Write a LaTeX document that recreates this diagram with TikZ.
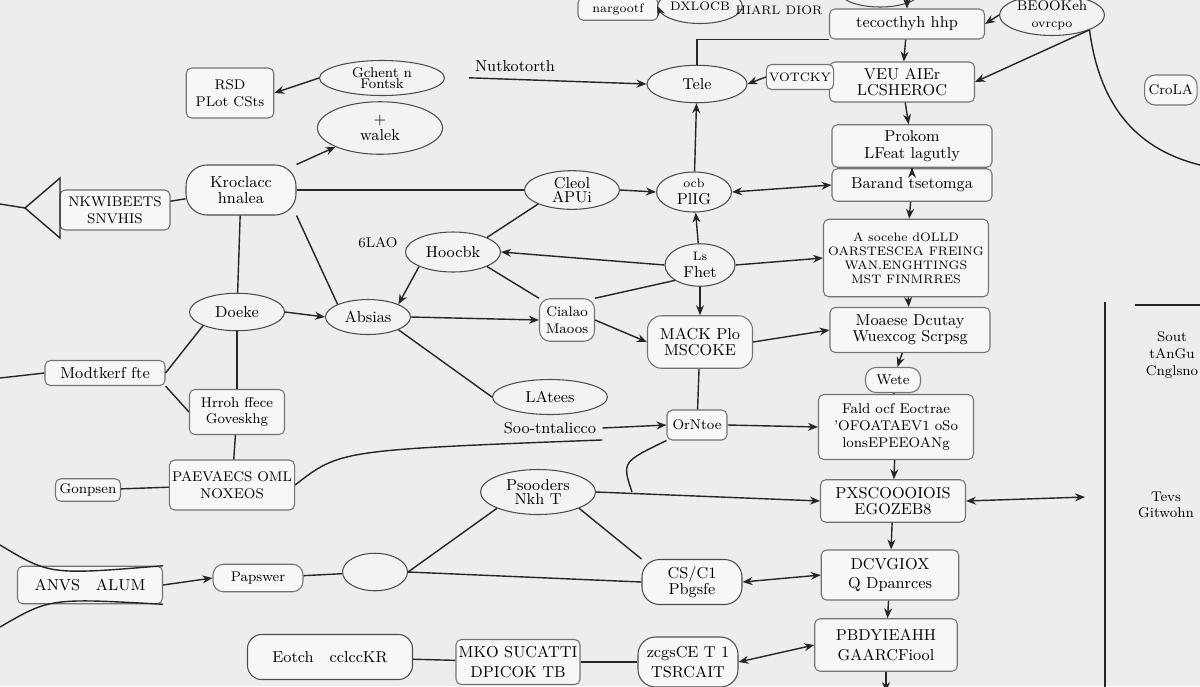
\documentclass[tikz,border=0pt]{standalone}
\usepackage{tikz}
\usetikzlibrary{arrows.meta,shapes.geometric}
\definecolor{paper}{HTML}{ECEDEF}
\tikzset{
  dgbox/.style={draw=black!55, line width=0.6pt, fill=white!55!paper, rounded corners=3pt,
                align=center, font=\small, inner sep=1.5pt},
  dgell/.style={ellipse, draw=black!70, line width=0.6pt, fill=white!35!paper,
                align=center, font=\small, inner sep=0.5pt},
  dgtxt/.style={font=\small, align=center},
  dgrel/.style={draw=black!85, line width=0.8pt},
  dgarr/.style={dgrel, -{Stealth[length=2mm,width=1.6mm]}},
  dgtwo/.style={dgrel, {Stealth[length=2mm,width=1.6mm]}-{Stealth[length=2mm,width=1.6mm]}},
}

\begin{document}
\begin{tikzpicture}[x=0.2mm,y=-0.2mm]
  \fill[paper] (0,0) rectangle (1200,686);
  \useasboundingbox (0,0) rectangle (1200,686);
  \clip (0,0) rectangle (1200,686);

  % top strip
  \node[dgbox, minimum width=16mm, minimum height=4.5mm, font=\scriptsize] (topl) at (618,9) {nargootf};
  \node[dgell, minimum width=15mm, minimum height=7mm, font=\scriptsize, inner sep=0pt] (topo) at (700,6) {DXLOCB};
  \node[dgtxt, font=\scriptsize] (hiar) at (758,10) {HIARL};
  \node[dgtxt, font=\scriptsize] (dior) at (804,10) {DIOR};
  \node[dgell, minimum width=16mm, minimum height=6mm] (topc) at (880,-8) {};
  \coordinate (tectop) at (907,-4);

  % right column
  \node[dgbox, minimum width=31mm, minimum height=6mm] (tecc) at (907,24) {tecocthyh hhp};
  \node[dgell, minimum width=21mm, minimum height=7.5mm, font=\footnotesize, inner sep=0pt] (beok) at (1052,15) {BEOOKeh\\{\scriptsize ovrcpo}};
  \node[dgbox, minimum width=29mm, minimum height=8mm] (veu) at (902,82) {VEU AIEr\\[-2pt]LCSHEROC};
  \node[dgbox, minimum width=32mm, minimum height=8.5mm] (prok) at (912,146) {Prokom\\[-1pt]LFeat lagutly};
  \node[dgbox, minimum width=32mm, minimum height=6.5mm] (bara) at (912,185) {Barand tsetomga};
  \node[dgbox, minimum width=33mm, minimum height=15.5mm, font=\scriptsize] (asoc) at (906,258) {A socehe dOLLD\\OARSTESCEA FREING\\WAN.ENGHTINGS\\MST FINMRRES};
  \node[dgbox, minimum width=32mm, minimum height=9mm] (moae) at (910,330) {Moaese Dcutay\\[-2pt]Wuexcog Scrpsg};
  \node[dgbox, rounded corners=6pt, minimum width=11mm, minimum height=5mm, font=\footnotesize] (wete) at (893,380) {Wete};
  \node[dgbox, minimum width=31mm, minimum height=13mm, font=\footnotesize] (fald) at (896,427) {Fald ocf Eoctrae\\'OFOATAEV1 oSo\\lonsEPEEOANg};
  \node[dgbox, minimum width=29mm, minimum height=8.5mm] (pxsc) at (893,501) {PXSCOOOIOIS\\[-2pt]EGOZEB8};
  \node[dgbox, minimum width=27.5mm, minimum height=10mm] (dcvg) at (890,575) {DCVGIOX\\Q Dpanrces};
  \node[dgbox, minimum width=28.5mm, minimum height=10.5mm] (pbdy) at (886,645) {PBDYIEAHH\\GAARCFiool};
  \coordinate (pbdyout) at (886,692);
  \coordinate (pxscr) at (1085,497);

  % far right
  \node[dgbox, rounded corners=6pt, minimum width=10.5mm, minimum height=6mm, font=\footnotesize, anchor=west] (crol) at (1144,90) {CroLA};
  \node[dgtxt, font=\footnotesize] (sout) at (1172,355) {Sout\\tAnGu\\Cnglsno};
  \node[dgtxt, font=\footnotesize] (tevs) at (1166,505) {Tevs\\Gitwohn};
  \coordinate (arcb) at (1200,165);
  \coordinate (vlt) at (1105,302);
  \coordinate (vlb) at (1105,690);
  \coordinate (hll) at (1135,305);
  \coordinate (hlr) at (1202,305);

  % middle column
  \node[dgell, minimum width=20mm, minimum height=7.5mm] (tele) at (697,84) {Tele};
  \node[dgbox, minimum width=9mm, minimum height=5mm, font=\scriptsize] (votc) at (800,77) {VOTCKY};
  \node[dgell, minimum width=15mm, minimum height=8mm, inner sep=0pt] (plig) at (694,192) {{\scriptsize ocb}\\[-1pt]PlIG};
  \node[dgell, minimum width=14mm, minimum height=8.5mm, inner sep=0pt] (fhet) at (700,265) {{\scriptsize Ls}\\[-1pt]Fhet};
  \node[dgbox, rounded corners=8pt, minimum width=21mm, minimum height=10.5mm] (mack) at (700,342) {MACK Plo\\[-2pt]MSCOKE};
  \node[dgbox, minimum width=12mm, minimum height=6mm, font=\footnotesize] (orn) at (697,425) {OrNtoe};
  \node[dgell, minimum width=23mm, minimum height=9mm] (psoo) at (538,492) {Psooders\\[-3pt]Nkh T};
  \node[dgbox, draw=black!70, rounded corners=10pt, minimum width=20mm, minimum height=9mm] (cs) at (692,582) {CS/C1\\[-2pt]Pbgsfe};
  \node[dgbox, draw=black!70, rounded corners=10pt, minimum width=20mm, minimum height=10mm] (zcgs) at (688,662) {zcgsCE T 1\\TSRCAIT};
  \node[dgbox, minimum width=20mm, minimum height=9mm] (mko) at (518,662) {MKO SUCATTI\\DPICOK TB};

  % lower left
  \node[dgbox, draw=black!70, rounded corners=8pt, minimum width=33mm, minimum height=9mm] (eotc) at (330,657) {Eotch\quad cclccKR};
  \node[dgell, minimum width=13mm, minimum height=7.5mm] (blank) at (375,572) {};
  \node[dgbox, rounded corners=6pt, minimum width=18mm, minimum height=5.5mm, font=\footnotesize] (paps) at (258,578) {Papswer};
  \node[dgbox, minimum width=29mm, minimum height=7.5mm] (anvs) at (90,585) {ANVS\quad ALUM};
  \coordinate (anvsa) at (0,545);
  \coordinate (anvsb) at (0,627);
  \node[dgbox, minimum width=21mm, minimum height=10mm, font=\footnotesize] (paev) at (232,485) {PAEVAECS OML\\NOXEOS};
  \node[dgbox, minimum width=13mm, minimum height=4.5mm, font=\footnotesize] (gonp) at (88,490) {Gonpsen};
  \node[dgbox, minimum width=19mm, minimum height=9mm, font=\footnotesize] (hrro) at (237,412) {Hrroh ffece\\Goveskhg};
  \node[dgbox, minimum width=24mm, minimum height=5mm] (modt) at (105,373) {Modtkerf fte};
  \coordinate (modtl) at (0,378);

  % upper left
  \node[dgell, minimum width=19mm, minimum height=7.5mm] (doek) at (237,312) {Doeke};
  \node[dgell, minimum width=17mm, minimum height=7mm] (absi) at (368,317) {Absias};
  \node[dgbox, rounded corners=6pt, minimum width=11mm, minimum height=8.5mm, font=\footnotesize] (cial) at (567,320) {Cialao\\Maoos};
  \node[dgell, minimum width=23mm, minimum height=7mm] (late) at (550,397) {LAtees};
  \node[dgtxt] (sootn) at (550,428) {Soo-tntalicco};
  \node[dgbox, draw=black!70, rounded corners=12pt, minimum width=22mm, minimum height=10mm] (krok) at (241,190) {Kroclacc\\[-2pt]hnalea};
  \node[dgbox, minimum width=22mm, minimum height=8mm, font=\footnotesize] (nkwi) at (115,210) {NKWIBEETS\\SNVHIS};
  \node[dgell, minimum width=19mm, minimum height=8mm] (hooc) at (453,252) {Hoocbk};
  \node[dgtxt, font=\footnotesize] (slao) at (378,243) {6LAO};
  \node[dgell, minimum width=19mm, minimum height=7.5mm] (cleo) at (572,190) {Cleol\\[-3pt]APUi};
  \node[dgell, minimum width=25mm, minimum height=10.5mm] (walk) at (380,128) {+\\[-2pt]walek};
  \node[dgell, minimum width=25mm, minimum height=7mm, font=\footnotesize] (gche) at (382,78) {Gchent n\\[-3pt]Fontsk};
  \node[dgbox, minimum width=17.5mm, minimum height=10mm, font=\footnotesize] (rsd) at (230,93) {RSD\\PLot CSts};
  \node[dgtxt] (nutk) at (515,66) {Nutkotorth};
  \coordinate (trit) at (60,178);
  \coordinate (trib) at (60,238);
  \coordinate (trip) at (25,208);
  \coordinate (tril) at (0,204);

  % connectors: top and right column
  \draw[dgarr] (topl.east) -- (topo.west);
  \draw[dgarr] (tectop) -- (tecc.north);
  \draw[dgarr] (beok.west) -- (tecc.east);
  \draw[dgarr] (beok.south east) -- (veu.east);
  \draw[dgrel] (beok.south east) .. controls (1100,110) and (1140,150) .. (arcb);
  \draw[dgrel] (tecc.south west) -| (tele.north);
  \draw[dgarr] (tecc) -- (veu);
  \draw[dgarr] (veu) -- (prok);
  \draw[dgarr] (bara) -- (prok);
  \draw[dgarr] (bara) -- (asoc);
  \draw[dgarr] (asoc) -- (moae);
  \draw[dgarr] (moae) -- (wete);
  \draw[dgrel] (wete) -- (fald);
  \draw[dgarr] (fald) -- (pxsc);
  \draw[dgarr] (pxsc) -- (dcvg);
  \draw[dgarr] (dcvg) -- (pbdy);
  \draw[dgarr] (pbdy) -- (pbdyout);
  \draw[dgtwo] (pxsc.east) -- (pxscr);
  \draw[dgrel] (vlt) -- (vlb);
  \draw[dgrel] (hll) -- (hlr);

  % connectors: middle
  \draw[dgarr] (nutk.south west) -- (tele.west);
  \draw[dgarr] (votc.west) -- (tele.east);
  \draw[dgarr] (plig) -- (tele);
  \draw[dgarr] (cleo.east) -- (plig.west);
  \draw[dgtwo] (plig.east) -- (bara.west);
  \draw[dgarr] (fhet) -- (plig);
  \draw[dgarr] (fhet.east) -- (asoc.west);
  \draw[dgarr] (fhet.west) -- (hooc.east);
  \draw[dgarr] (fhet) -- (mack);
  \draw[dgrel] (fhet.south west) -- (cial.north east);
  \draw[dgarr] (cial.east) -- (mack.west);
  \draw[dgarr] (mack.east) -- (moae.west);
  \draw[dgrel] (mack) -- (orn);
  \draw[dgarr] (orn.east) -- (fald.west);
  \draw[dgarr] (sootn.east) -- (orn.west);
  \draw[dgrel] (paev.east) .. controls (340,450) .. (sootn.south east);
  \draw[dgarr] (psoo.east) -- (pxsc.west);
  \draw[dgrel] (orn.south west) .. controls (622,462) .. (psoo.east -| 632,0);
  \draw[dgrel] (psoo.south east) -- (cs.north west);
  \draw[dgrel] (psoo.south west) -- (blank.east);
  \draw[dgrel] (blank.east) -- (cs.west);
  \draw[dgtwo] (cs.east) -- (dcvg.west);
  \draw[dgtwo] (zcgs.east) -- (pbdy.west);
  \draw[dgrel] (mko) -- (zcgs);
  \draw[dgrel] (eotc) -- (mko);

  % connectors: left
  \draw[dgrel] (paps) -- (blank);
  \draw[dgarr] (anvs.east) -- (paps.west);
  \draw[dgrel] (anvsa) .. controls (50,575) .. (anvs.north east);
  \draw[dgrel] (anvsb) .. controls (50,598) .. (anvs.south east);
  \draw[dgrel] (gonp) -- (paev);
  \draw[dgrel] (hrro) -- (paev);
  \draw[dgrel] (doek) -- (hrro);
  \draw[dgrel] (doek.south west) -- (modt.east);
  \draw[dgrel] (modt.south east) -- (hrro.west);
  \draw[dgrel] (modtl) -- (modt.west);
  \draw[dgarr] (doek.east) -- (absi.west);
  \draw[dgarr] (absi.east) -- (cial.west);
  \draw[dgrel] (absi.south east) -- (late.west);
  \draw[dgarr] (hooc.south west) -- (absi.north east);
  \draw[dgrel] (hooc.south east) -- (cial.north west);
  \draw[dgrel] (cleo.south west) -- (hooc.north east);
  \draw[dgrel] (krok.east) -- (cleo.west);
  \draw[dgrel] (krok) -- (doek);
  \draw[dgrel] (krok.south east) -- (absi.north west);
  \draw[dgarr] (krok.north east) -- (walk.south west);
  \draw[dgrel] (nkwi) -- (krok);
  \draw[dgarr] (gche.west) -- (rsd.east);
  \draw[dgrel] (tril) -- (trip);
  \draw[dgrel] (trit) -- (trip) -- (trib) -- cycle;
\end{tikzpicture}
\end{document}
